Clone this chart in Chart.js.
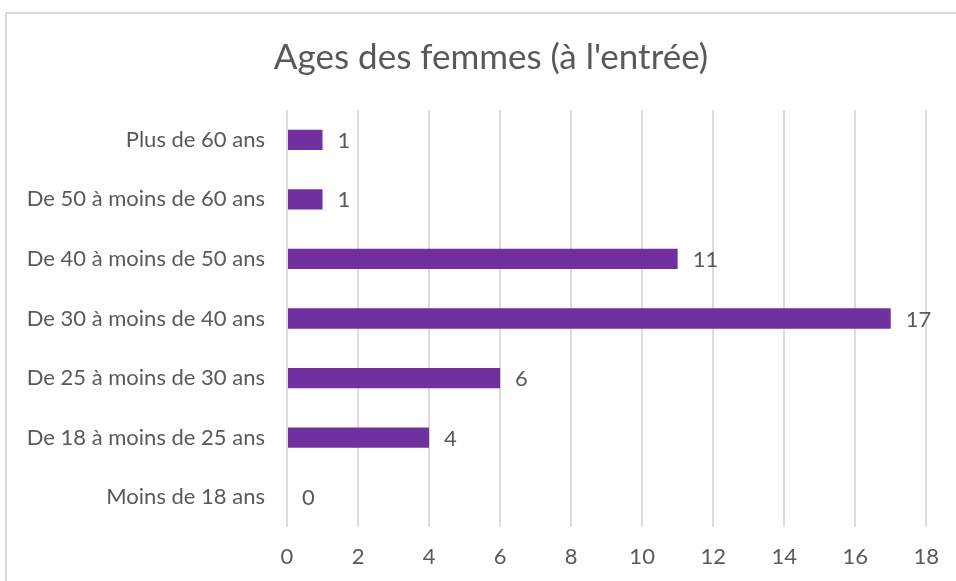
<!DOCTYPE html>
<html lang="fr">
<head>
  <meta charset="UTF-8">
  <title>Ages des femmes (à l'entrée)</title>
  <script src="https://cdn.jsdelivr.net/npm/chart.js"></script>
  <style>
    body { margin: 0; background: #ffffff; }
    #frame {
      position: absolute; left: 5px; top: 12px; width: 1000px; height: 700px;
      border: 2px solid #d9d9d9; box-sizing: border-box;
    }
    #chart { position: absolute; left: 0; top: 0; }
  </style>
</head>
<body>
  <div id="frame"></div>
  <canvas id="chart" width="956" height="581"></canvas>
  <script>
    const chartTitle = "Ages des femmes (à l'entrée)";
    // tranches d'age, du haut vers le bas
    const categories = [
      'Plus de 60 ans',
      'De 50 à moins de 60 ans',
      'De 40 à moins de 50 ans',
      'De 30 à moins de 40 ans',
      'De 25 à moins de 30 ans',
      'De 18 à moins de 25 ans',
      'Moins de 18 ans'
    ];
    const counts = [1, 1, 11, 17, 6, 4, 0];
    const xMax = 18;
    const xStep = 2;

    const textColor = '#595959';
    const fontFamily = 'Lato, "Open Sans", sans-serif';

    // titre centre sur le cadre (qui deborde a droite)
    const titleText = {
      id: 'titleText',
      afterDraw(chart) {
        const ctx = chart.ctx;
        ctx.save();
        ctx.fillStyle = textColor;
        ctx.font = '35px ' + fontFamily;
        ctx.textAlign = 'center';
        ctx.textBaseline = 'middle';
        ctx.fillText(chartTitle, 491, 58);
        ctx.restore();
      }
    };

    // etiquettes de valeur a droite des barres
    const valueLabels = {
      id: 'valueLabels',
      afterDatasetsDraw(chart) {
        const ctx = chart.ctx;
        const meta = chart.getDatasetMeta(0);
        ctx.save();
        ctx.fillStyle = textColor;
        ctx.font = '22px ' + fontFamily;
        ctx.textAlign = 'left';
        ctx.textBaseline = 'middle';
        meta.data.forEach((bar, i) => {
          ctx.fillText(String(counts[i]), bar.x + 15, bar.y + 1);
        });
        ctx.restore();
      }
    };

    new Chart(document.getElementById('chart'), {
      type: 'bar',
      data: {
        labels: categories,
        datasets: [{
          data: counts,
          backgroundColor: '#7030a0',
          borderWidth: 0,
          categoryPercentage: 0.34,
          barPercentage: 1
        }]
      },
      options: {
        indexAxis: 'y',
        responsive: false,
        animation: false,
        layout: { padding: { left: 0, right: 24, top: 110, bottom: 0 } },
        plugins: {
          legend: { display: false },
          tooltip: { enabled: false },
          title: { display: false }
        },
        scales: {
          x: {
            min: 0, max: xMax,
            ticks: { stepSize: xStep, color: textColor, padding: 17, font: { family: fontFamily, size: 22 } },
            grid: { color: '#dcdcdc', lineWidth: 2, drawTicks: false },
            border: { display: false },
            afterFit(scale) { scale.height = 54; }
          },
          y: {
            ticks: { color: textColor, padding: 22, font: { family: fontFamily, size: 22 } },
            grid: { display: false, drawTicks: false },
            border: { display: false },
            afterFit(scale) { scale.width = 287; }
          }
        }
      },
      plugins: [valueLabels, titleText]
    });
  </script>
</body>
</html>
